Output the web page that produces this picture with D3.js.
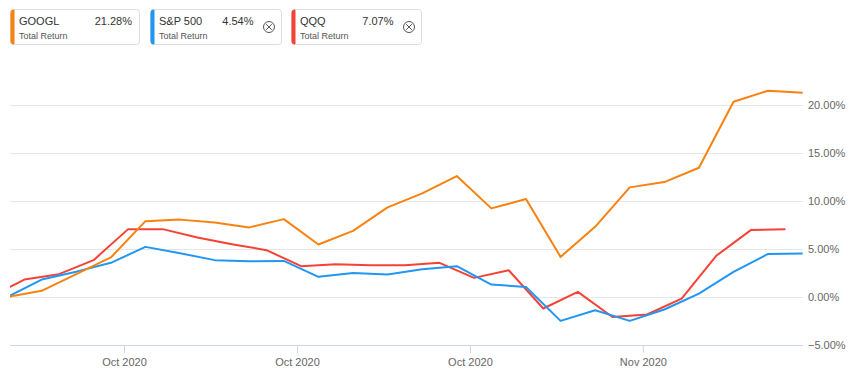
<!DOCTYPE html>
<html>
<head>
<meta charset="utf-8">
<script src="https://cdn.jsdelivr.net/npm/d3@7"></script>
<style>
    body { margin: 0; background: #fff; }
    svg { display: block; font-family: "Liberation Sans", Arial, sans-serif; }
</style>
</head>
<body>
<svg></svg>
<script>
// trading day index for GOOGL / S&P 500, QQQ is shifted by half a day
const DAYS = d3.range(0, 24);
const QQQ_DAYS = DAYS.map(d => d - 0.5);

const GOOGL = [0, 0.64, 2.38, 4.12, 7.9, 8.06, 7.77, 7.25, 8.11, 5.47, 6.89, 9.33, 10.79, 12.6,
    9.23, 10.2, 4.18, 7.31, 11.42, 11.97, 13.46, 20.34, 21.49, 21.28];
const SP500 = [0, 1.82, 2.64, 3.56, 5.22, 4.56, 3.84, 3.73, 3.76, 2.1, 2.51, 2.35, 2.9, 3.21,
    1.3, 1.05, -2.49, -1.38, -2.49, -1.3, 0.36, 2.62, 4.49, 4.54];
const QQQ = [0, 1.82, 2.38, 3.84, 7.07, 7.07, 6.2, 5.5, 4.88, 3.21, 3.42, 3.32, 3.32, 3.56,
    1.99, 2.79, -1.2, 0.53, -2.08, -1.82, -0.16, 4.29, 6.97, 7.07];

const SERIES = [
    {id: 'googl', name: 'GOOGL', total: '21.28%', color: '#f7820f', x: DAYS, y: GOOGL, closable: false},
    {id: 'sp500', name: 'S&P 500', total: '4.54%', color: '#2196f3', x: DAYS, y: SP500, closable: true},
    {id: 'qqq', name: 'QQQ', total: '7.07%', color: '#f44336', x: QQQ_DAYS, y: QQQ, closable: true},
];

const X_TICKS = [3.38, 8.38, 13.38, 18.38];
const X_TICK_LABELS = ['Oct 2020', 'Oct 2020', 'Oct 2020', 'Nov 2020'];
const Y_TICKS = [-5, 0, 5, 10, 15, 20];

const WIDTH = 864;
const HEIGHT = 378;
const PLOT = {left: 10, right: 803, top: 57, bottom: 345};

const svg = d3.select('svg')
    .attr('width', WIDTH)
    .attr('height', HEIGHT);

/* ************** SCALE ********************* */
const x = d3.scaleLinear().domain([0, 23]).range([7.1, 802.7]);
const y = d3.scaleLinear().domain([-5, 25]).range([PLOT.bottom, PLOT.top]);

/* ************** GRID + Y AXIS ********************* */
const yAxis = svg.append('g')
    .attr('transform', `translate(${PLOT.right}, 0)`)
    .call(d3.axisRight(y).tickValues(Y_TICKS)
        .tickSize(-(PLOT.right - PLOT.left))
        .tickPadding(5)
        .tickFormat(d => d3.format('.2f')(d) + '%'));
yAxis.select('.domain').remove();
yAxis.selectAll('line').attr('stroke', '#e6e6e6');
yAxis.selectAll('text')
    .attr('fill', '#666')
    .style('font-size', '11px')
    .attr('font-family', '"Liberation Sans", Arial, sans-serif');

/* ************** X AXIS ********************* */
const xAxis = svg.append('g')
    .attr('transform', `translate(0, ${PLOT.bottom})`)
    .call(d3.axisBottom(x).tickValues(X_TICKS)
        .tickSize(8)
        .tickSizeOuter(0)
        .tickPadding(5)
        .tickFormat((d, i) => X_TICK_LABELS[i]));
xAxis.select('.domain')
    .attr('d', `M${PLOT.left},0.5H${PLOT.right}`)
    .attr('stroke', '#ccd6eb');
xAxis.selectAll('line').attr('stroke', '#ccd6eb');
xAxis.selectAll('text')
    .attr('fill', '#666')
    .style('font-size', '11px')
    .attr('font-family', '"Liberation Sans", Arial, sans-serif');

/* ************** LINES ********************* */
svg.append('clipPath').attr('id', 'plot-clip')
    .append('rect')
    .attr('x', PLOT.left)
    .attr('y', 0)
    .attr('width', PLOT.right - PLOT.left + 2)
    .attr('height', HEIGHT);

const line = d3.line()
    .x(d => x(d[0]))
    .y(d => y(d[1]));

svg.append('g')
    .attr('clip-path', 'url(#plot-clip)')
    .selectAll('path')
    .data(SERIES.slice().reverse())
    .enter()
    .append('path')
    .attr('d', s => line(s.x.map((v, i) => [v, s.y[i]])))
    .attr('fill', 'none')
    .attr('stroke', s => s.color)
    .attr('stroke-width', 2)
    .attr('stroke-linejoin', 'round');

/* ************** LEGEND ********************* */
const LEGEND_BOX = [{x: 10.5, w: 129}, {x: 150.5, w: 131}, {x: 291.5, w: 130}];

const legend = svg.append('g')
    .selectAll('.legend')
    .data(SERIES)
    .enter()
    .append('g')
    .classed('legend', true)
    .attr('transform', (s, i) => `translate(${LEGEND_BOX[i].x}, 9.5)`);

legend.append('rect')
    .attr('width', (s, i) => LEGEND_BOX[i].w)
    .attr('height', 35)
    .attr('rx', 3)
    .attr('fill', '#fff')
    .attr('stroke', '#dcdcdc');

// colored strip on the left
legend.append('path')
    .attr('d', 'M3,0.5H3.5V34.5H3A2.5,2.5 0 0 1 0.5,32V3A2.5,2.5 0 0 1 3,0.5Z')
    .attr('fill', s => s.color)
    .attr('stroke', s => s.color)
    .attr('stroke-width', 1);

legend.append('text')
    .text(s => s.name)
    .attr('x', 8.5)
    .attr('y', 15.5)
    .attr('fill', '#333')
    .style('font-size', '11px');

legend.append('text')
    .text(s => s.total)
    .attr('x', (s, i) => s.closable ? LEGEND_BOX[i].w - 28 : LEGEND_BOX[i].w - 7.5)
    .attr('y', 15.5)
    .attr('text-anchor', 'end')
    .attr('fill', '#333')
    .style('font-size', '11px');

legend.append('text')
    .text('Total Return')
    .attr('x', 8.5)
    .attr('y', 29)
    .attr('fill', '#555')
    .style('font-size', '9px');

// close icons
const closeIcon = legend.filter(s => s.closable)
    .append('g')
    .attr('transform', (s, i) => `translate(${LEGEND_BOX[i + 1].w - 12.5}, 17.5)`)
    .attr('stroke', '#555')
    .attr('fill', 'none');
closeIcon.append('circle').attr('r', 5.5);
closeIcon.append('path').attr('d', 'M-2.8,-2.8L2.8,2.8M2.8,-2.8L-2.8,2.8');
</script>
</body>
</html>
